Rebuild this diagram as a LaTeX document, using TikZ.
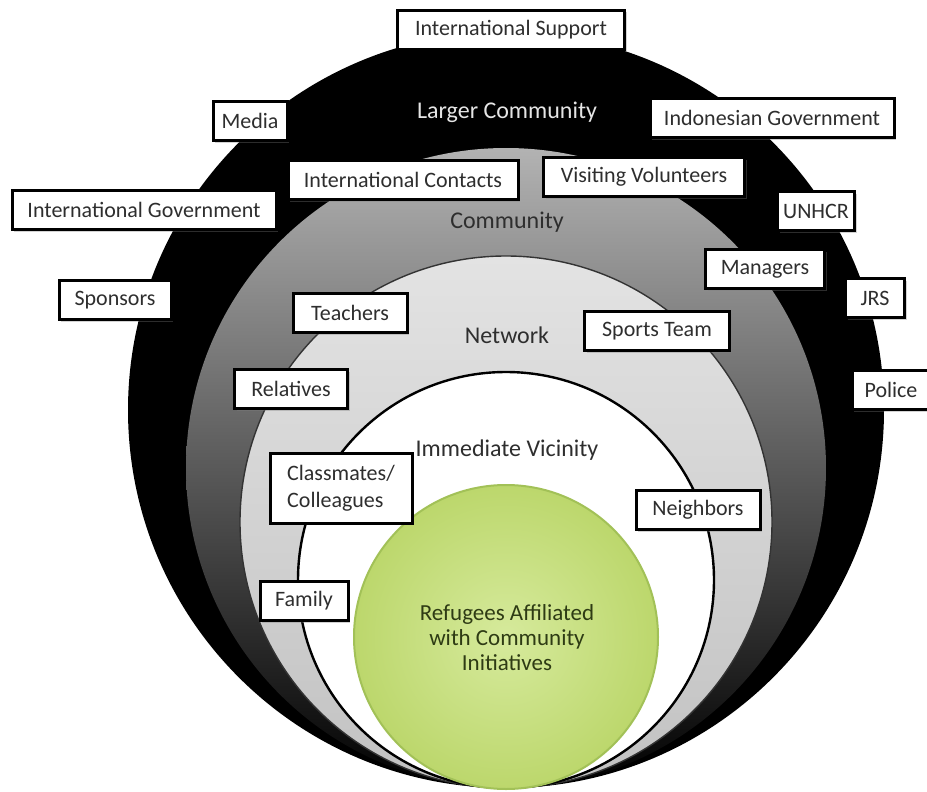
\documentclass[tikz,border=0pt]{standalone}
\usepackage{fontspec}
\setmainfont{Carlito}
\usetikzlibrary{shadows}
\definecolor{txt}{HTML}{2E2E2E}
\definecolor{greenin}{HTML}{D6EA9C}
\definecolor{greenout}{HTML}{BCD76C}
\definecolor{greenline}{HTML}{A2C157}
\definecolor{greentxt}{HTML}{2E3B14}
\begin{document}
\begin{tikzpicture}[x=1pt,y=-1pt,
  lbl/.style={draw=black, line width=3pt, fill=white, text=txt,
    font=\fontsize{22}{25}\selectfont, inner xsep=4pt, inner ysep=0pt,
    minimum height=39pt, align=center,
    drop shadow={shadow xshift=2pt, shadow yshift=-2pt, opacity=0.35}},
  ring/.style={font=\fontsize{24}{27}\selectfont, text=txt},
]
\path[use as bounding box] (0,0) rectangle (927,792);

% circles
\fill[black] (506,410) circle[radius=378pt];
\shade[top color=black!30, bottom color=black] (506,468) circle[radius=320pt];
\shade[top color=black!11, bottom color=black!24] (506,522) circle[radius=266pt];
\draw[black!80, line width=1.4pt] (506,522) circle[radius=266pt];
\filldraw[fill=white, draw=black, line width=2.4pt] (506,580) circle[radius=208pt];
\shade[inner color=greenin, outer color=greenout] (506,637) circle[radius=152pt];
\draw[greenline, line width=2pt] (506,637) circle[radius=152pt];

% ring labels
\node[ring, text=black!10] (larger) at (507,112) {Larger Community};
\node[ring] (comm) at (507,222) {Community};
\node[ring] (net) at (507,335) {Network};
\node[ring] (vic) at (507,450) {Immediate Vicinity};
\node[font=\fontsize{23}{25}\selectfont, text=greentxt, align=center] (core) at (507,638)
  {Refugees Affiliated\\with Community\\Initiatives};

% boxes
\node[lbl, minimum width=227pt] (intsup) at (511,30) {International Support};
\node[lbl, minimum width=74pt] (media) at (250,121) {Media};
\node[lbl, minimum width=244pt] (indo) at (772,118) {Indonesian Government};
\node[lbl, minimum width=230pt] (intcon) at (403,180) {International Contacts};
\node[lbl, minimum width=201pt] (visit) at (644,177) {Visiting Volunteers};
\node[lbl, minimum width=264pt] (intgov) at (144,210) {International Government};
\node[lbl, minimum width=77pt] (unhcr) at (816,211) {UNHCR};
\node[lbl, minimum width=112pt] (spons) at (115,300) {Sponsors};
\node[lbl, minimum width=119pt] (manag) at (765,269) {Managers};
\node[lbl, minimum width=114pt] (teach) at (350,313) {Teachers};
\node[lbl, minimum width=145pt] (sports) at (657,331) {Sports Team};
\node[lbl, minimum width=59pt] (jrs) at (875,298) {JRS};
\node[lbl, minimum width=113pt] (rel) at (291,389) {Relatives};
\node[lbl, minimum width=78pt] (police) at (891,390) {Police};
\node[lbl, minimum width=142pt, minimum height=70pt, align=left, font=\fontsize{22}{27}\selectfont] (class) at (341,488) {Classmates/\\Colleagues};
\node[lbl, minimum width=124pt] (neigh) at (698,510) {Neighbors};
\node[lbl, minimum width=88pt] (fam) at (304,601) {Family};
\end{tikzpicture}
\end{document}
